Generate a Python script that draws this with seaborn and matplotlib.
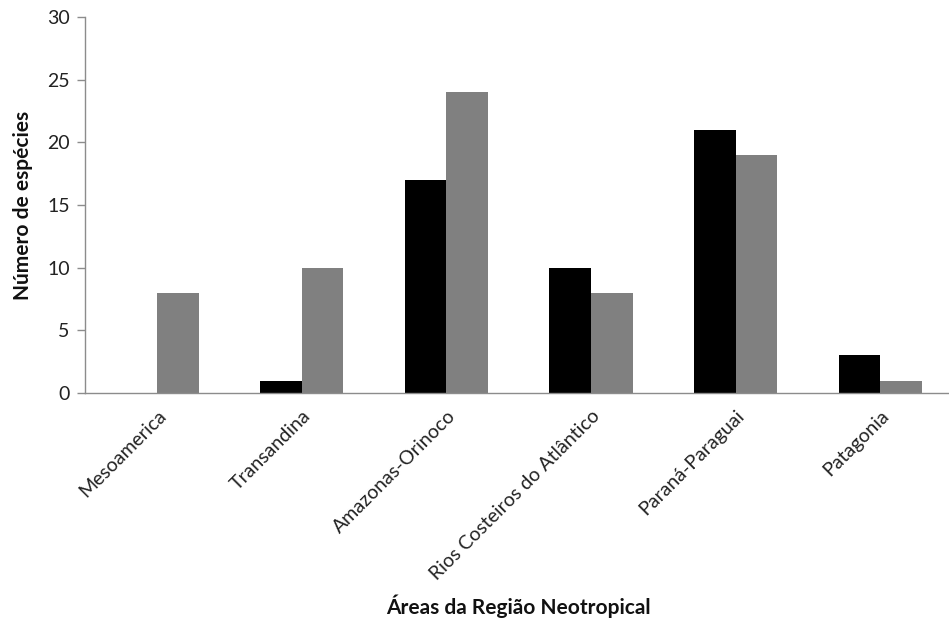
import pandas as pd
import matplotlib
matplotlib.use("Agg")
import matplotlib.pyplot as plt
import seaborn as sns

# Data
areas = ["Mesoamerica", "Transandina", "Amazonas-Orinoco",
         "Rios Costeiros do Atlântico", "Paraná-Paraguai", "Patagonia"]
serie_a = [0, 1, 17, 10, 21, 3]
serie_b = [8, 10, 24, 8, 19, 1]

df = pd.DataFrame({
    "area": areas * 2,
    "serie": ["A"] * len(areas) + ["B"] * len(areas),
    "n": serie_a + serie_b,
})

sns.set_style("white")
plt.rcParams["font.family"] = ["Lato", "DejaVu Sans"]

fig = plt.figure(figsize=(9.49, 6.35), dpi=100)
ax = fig.add_axes([0.0896, 0.381, 0.914, 0.592])

sns.barplot(data=df, x="area", y="n", hue="serie", order=areas,
            palette=["#000000", "#808080"], width=0.575, gap=0,
            saturation=1, linewidth=0, ax=ax, legend=False)

ax.set_ylim(0, 30)
ax.set_yticks(range(0, 31, 5))
ax.set_xlim(-0.5, 5.5)

# category boundary ticks like Excel
ax.set_xticks([i - 0.5 for i in range(len(areas) + 1)], minor=True)
ax.tick_params(axis="x", which="major", length=0, pad=10)
ax.tick_params(axis="x", which="minor", length=6, color="#8c8c8c", width=1)
ax.tick_params(axis="y", length=6, color="#8c8c8c", width=1, labelsize=14,
               labelcolor="#222222", pad=5, left=True)
ax.set_xticks(range(len(areas)))
ax.set_xticklabels(areas, rotation=45, ha="right", rotation_mode="anchor",
                   fontsize=14, color="#222222")

for s in ["top", "right"]:
    ax.spines[s].set_visible(False)
for s in ["left", "bottom"]:
    ax.spines[s].set_color("#8c8c8c")
    ax.spines[s].set_linewidth(1)

ax.set_ylabel("Número de espécies", fontsize=15, fontweight="bold", labelpad=10,
              color="#111111")
ax.set_xlabel("")
fig.text(0.546, 0.045, "Áreas da Região Neotropical", ha="center", va="center",
         fontsize=15, fontweight="bold", color="#111111")

fig.savefig("out.png", dpi=100)
